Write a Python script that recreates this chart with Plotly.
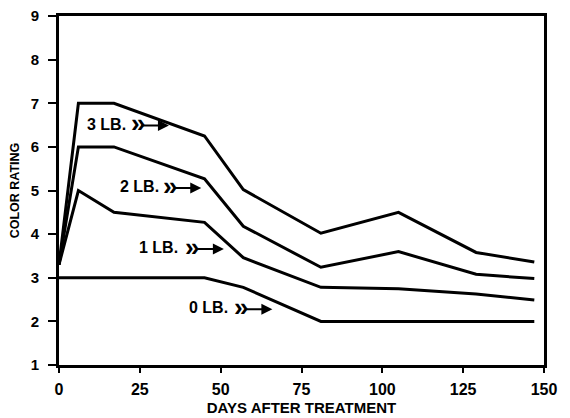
import plotly.graph_objects as go

days = [0, 6, 17, 45, 57, 81, 105, 129, 147]
lb3 = [3.3, 7.0, 7.0, 6.25, 5.02, 4.02, 4.5, 3.58, 3.36]
lb2 = [3.3, 6.0, 6.0, 5.27, 4.18, 3.24, 3.6, 3.08, 2.98]
lb1 = [3.3, 5.0, 4.5, 4.27, 3.46, 2.78, 2.75, 2.63, 2.49]
lb0 = [3.0, 3.0, 3.0, 3.0, 2.78, 2.0, 2.0, 2.0, 2.0]
series_names = ["3 LB.", "2 LB.", "1 LB.", "0 LB."]
x_ticks = [0, 25, 50, 75, 100, 125, 150]
y_ticks = [1, 2, 3, 4, 5, 6, 7, 8, 9]

FONT = "Liberation Sans, Arial, sans-serif"

fig = go.Figure()
for name, ys in zip(series_names, [lb3, lb2, lb1, lb0]):
    fig.add_trace(go.Scatter(x=days, y=ys, mode="lines", name=name,
                             line=dict(color="black", width=3), showlegend=False))

# label positions (text left x, y) and arrows (tail x, head x)
label_pos = [(8.0, 6.52, 22, 34), (18.2, 5.09, 32, 44), (24.1, 3.69, 39, 51), (39.6, 2.31, 54, 66)]
for name, (lx, ly, ax0, ax1) in zip(series_names, label_pos):
    fig.add_annotation(x=lx, y=ly, text=name, showarrow=False, xanchor="left", yanchor="middle",
                       font=dict(family=FONT, size=16, color="black", weight="bold"))
    fig.add_annotation(x=ax1, y=ly - 0.03, ax=ax0 + 3, ay=ly - 0.03, axref="x", ayref="y",
                       xref="x", yref="y", text="", showarrow=True, arrowhead=2,
                       arrowsize=1.1, arrowwidth=2, arrowcolor="black")
    fig.add_annotation(x=ax0 - 0.5, y=ly + 0.02, text="\u00bb", showarrow=False, xanchor="left",
                       yanchor="middle", font=dict(family=FONT, size=26, color="black", weight="bold"))

# the page body has an 8px default margin, so the figure is sized to fit the window
fig.update_layout(
    width=562, height=410,
    margin=dict(l=51, r=26, t=8, b=53),
    paper_bgcolor="white", plot_bgcolor="white",
    font=dict(family=FONT, color="black", weight="bold"),
)
fig.update_xaxes(range=[0, 150], tickvals=x_ticks, ticks="outside", ticklen=5, tickwidth=2,
                 tickcolor="black", showline=True, linecolor="black", linewidth=3, mirror=True,
                 showgrid=False, zeroline=False, ticklabelstandoff=3, automargin=False,
                 ticklabeloverflow="allow",
                 tickfont=dict(family=FONT, size=16, color="black", weight="bold"),
                 title=dict(text="DAYS AFTER TREATMENT", standoff=6,
                            font=dict(family=FONT, size=15, color="black", weight="bold")))
fig.update_yaxes(range=[1, 9], tickvals=y_ticks, ticks="outside", ticklen=8, tickwidth=2,
                 tickcolor="black", showline=True, linecolor="black", linewidth=3, mirror=True,
                 showgrid=False, zeroline=False, ticklabelstandoff=6, automargin=False,
                 ticklabeloverflow="allow",
                 tickfont=dict(family=FONT, size=15, color="black", weight="bold"),
                 title=dict(text="COLOR RATING", standoff=23,
                            font=dict(family=FONT, size=12.5, color="black", weight="bold")))

fig.write_html("out.html")
